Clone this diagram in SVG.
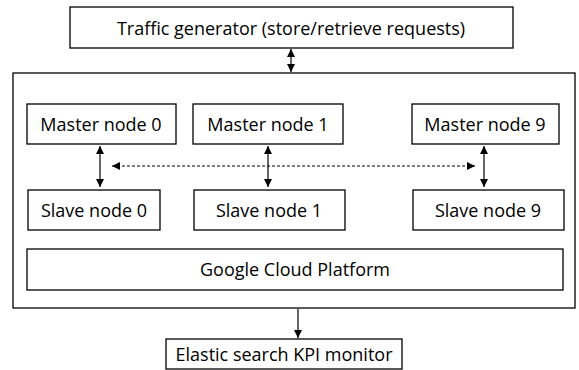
<svg xmlns="http://www.w3.org/2000/svg" width="579" height="370" viewBox="0 0 579 370">
<defs>
<style>
.box{fill:#fff;stroke:#000;stroke-width:1.3}
.t{font-family:"Open Sans","Liberation Sans",sans-serif;font-size:18px;fill:#000;text-anchor:middle;dominant-baseline:central}
.c{stroke:#000;stroke-width:1.2;fill:none}
.d{stroke:#000;stroke-width:1;stroke-dasharray:3,2;fill:none}
</style>
<marker id="ah" viewBox="0 0 10 10" refX="10" refY="5" markerWidth="8" markerHeight="8" markerUnits="userSpaceOnUse" orient="auto-start-reverse">
<path d="M0,0 L10,5 L0,10 Z" fill="#000"/>
</marker>
</defs>
<rect width="579" height="370" fill="#fff"/>
<g id="traffic"><rect class="box" x="70" y="7" width="443" height="41"/><text class="t" x="291" y="28">Traffic generator (store/retrieve requests)</text></g>
<g id="platform"><rect class="box" x="13" y="73" width="562" height="235"/></g>
<g id="master0"><rect class="box" x="27" y="104" width="149" height="40"/><text class="t" x="101" y="124">Master node 0</text></g>
<g id="master1"><rect class="box" x="193" y="104" width="150" height="40"/><text class="t" x="268" y="124">Master node 1</text></g>
<g id="master9"><rect class="box" x="412" y="104" width="147" height="40"/><text class="t" x="485" y="124">Master node 9</text></g>
<g id="slave0"><rect class="box" x="28" y="190" width="132" height="40"/><text class="t" x="94" y="210">Slave node 0</text></g>
<g id="slave1"><rect class="box" x="194" y="190" width="151" height="40"/><text class="t" x="269" y="210">Slave node 1</text></g>
<g id="slave9"><rect class="box" x="413" y="190" width="151" height="40"/><text class="t" x="488" y="210">Slave node 9</text></g>
<g id="gcp"><rect class="box" x="27" y="249" width="536" height="41"/><text class="t" x="295" y="269">Google Cloud Platform</text></g>
<g id="elastic"><rect class="box" x="166" y="339" width="236" height="30"/><text class="t" x="284" y="354">Elastic search KPI monitor</text></g>
<g id="connectors">
<line class="c" x1="291" y1="49" x2="291" y2="72" marker-start="url(#ah)" marker-end="url(#ah)"/>
<line class="c" x1="100" y1="146" x2="100" y2="187" marker-start="url(#ah)" marker-end="url(#ah)"/>
<line class="c" x1="268" y1="146" x2="268" y2="187" stroke="#666" marker-start="url(#ah)" marker-end="url(#ah)"/>
<line class="c" x1="484" y1="146" x2="484" y2="187" marker-start="url(#ah)" marker-end="url(#ah)"/>
<line class="d" x1="112" y1="166" x2="475" y2="166" marker-start="url(#ah)" marker-end="url(#ah)"/>
<line class="c" x1="298" y1="309" x2="298" y2="338" stroke="#777" marker-end="url(#ah)"/>
</g>
</svg>
